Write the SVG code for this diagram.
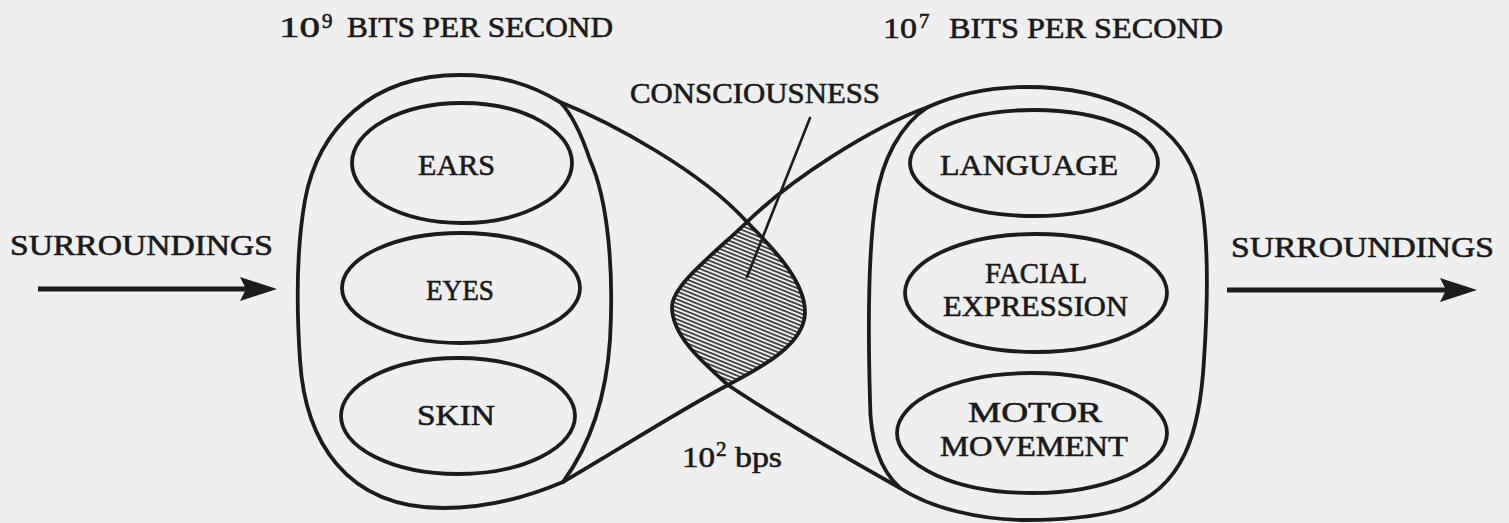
<svg xmlns="http://www.w3.org/2000/svg" width="1509" height="523" viewBox="0 0 1509 523">
<style>
.bg{fill:#efefef}
.ln{fill:none;stroke:#1c1c1c;stroke-width:3.8;stroke-linejoin:round;stroke-linecap:round}
.ov{fill:none;stroke:#1c1c1c;stroke-width:3.8}
.t{font-family:"Liberation Serif","Times New Roman",serif;fill:#1a1a1a;stroke:#1a1a1a;stroke-width:0.6;font-size:29px}
.sup{font-size:21px}
.arr{stroke:#1c1c1c;stroke-width:5;fill:none}
.ptr{stroke:#1c1c1c;stroke-width:2.6;fill:none;stroke-linecap:round}
</style>
<defs>
<pattern id="hatch" patternUnits="userSpaceOnUse" width="8" height="3.7" patternTransform="rotate(22)">
<line x1="-1" y1="1.8" x2="9" y2="1.8" stroke="#2a2a2a" stroke-width="1.6"/>
</pattern>
<marker id="ah" markerUnits="userSpaceOnUse" markerWidth="40" markerHeight="26" refX="10" refY="12" orient="auto">
<path d="M0,0 L37,12 L0,24 L6,12 Z" fill="#1c1c1c"/>
</marker>
</defs>
<rect class="bg" x="0" y="0" width="1509" height="523"/>

<g id="titles">
<text class="t" x="279" y="37" textLength="41" lengthAdjust="spacingAndGlyphs">10</text>
<text class="t sup" x="322" y="28">9</text>
<text class="t" x="347" y="37" textLength="266" lengthAdjust="spacingAndGlyphs">BITS PER SECOND</text>
<text class="t" x="883" y="38" textLength="34" lengthAdjust="spacingAndGlyphs">10</text>
<text class="t sup" x="919" y="28">7</text>
<text class="t" x="949" y="38" textLength="274" lengthAdjust="spacingAndGlyphs">BITS PER SECOND</text>
</g>

<g id="node-senses">
<path class="ov" d="M560,102 C530,84 500,75 460,75 C370,75 318,130 305,200 C297,245 296,300 300,360 C305,440 345,508 443,508 C490,508 530,496 563,482 C590,445 606,400 610,340 C614,270 608,200 590,160 C580,130 570,112 560,102 Z"/>
</g>
<g id="node-ears">
<ellipse class="ov" cx="462" cy="163" rx="110" ry="60"/>
<text class="t" x="418" y="175" textLength="77" lengthAdjust="spacingAndGlyphs">EARS</text>
</g>
<g id="node-eyes">
<ellipse class="ov" cx="461" cy="288" rx="119" ry="55"/>
<text class="t" x="426" y="300" textLength="68" lengthAdjust="spacingAndGlyphs">EYES</text>
</g>
<g id="node-skin">
<ellipse class="ov" cx="458" cy="416" rx="117" ry="58"/>
<text class="t" x="417" y="425" textLength="78" lengthAdjust="spacingAndGlyphs">SKIN</text>
</g>

<g id="node-output">
<path class="ov" d="M928,107 C955,95 990,87 1027,87 C1110,87 1175,120 1195,175 C1210,220 1208,300 1204,360 C1200,430 1185,490 1120,510 C1090,518 1060,520 1027,520 C980,520 930,508 900,488 C880,470 870,440 870,400 C868,330 868,250 876,200 C882,160 900,125 928,107 Z"/>
</g>
<g id="node-language">
<ellipse class="ov" cx="1034" cy="163" rx="124" ry="53"/>
<text class="t" x="940" y="175" textLength="178" lengthAdjust="spacingAndGlyphs">LANGUAGE</text>
</g>
<g id="node-facial">
<ellipse class="ov" cx="1036" cy="293" rx="131" ry="59"/>
<text class="t" x="985" y="283" textLength="102" lengthAdjust="spacingAndGlyphs">FACIAL</text>
<text class="t" x="943" y="316" textLength="185" lengthAdjust="spacingAndGlyphs">EXPRESSION</text>
</g>
<g id="node-motor">
<ellipse class="ov" cx="1032" cy="433" rx="135" ry="60"/>
<text class="t" x="968" y="422" textLength="134" lengthAdjust="spacingAndGlyphs">MOTOR</text>
<text class="t" x="940" y="456" textLength="188" lengthAdjust="spacingAndGlyphs">MOVEMENT</text>
</g>

<g id="node-consciousness">
<path fill="url(#hatch)" stroke="none" d="M747,222 C770,245 805,280 805,312 C805,345 760,368 728,385 C700,360 672,335 672,307 C672,285 715,253 747,222 Z"/>
<line class="ptr" x1="810" y1="118" x2="747" y2="277"/>
<text class="t" x="630" y="103" textLength="250" lengthAdjust="spacingAndGlyphs">CONSCIOUSNESS</text>
</g>

<g id="connectors">
<path class="ln" d="M560,102 C610,122 700,170 747,222 C770,245 805,280 805,312 C805,345 760,368 728,385 C680,410 610,455 563,482"/>
<path class="ln" d="M928,107 C870,128 790,180 747,222 C715,253 672,285 672,307 C672,335 700,360 728,385 C780,420 850,460 900,488"/>
<line class="arr" x1="38" y1="289" x2="250" y2="289" marker-end="url(#ah)"/>
<line class="arr" x1="1227" y1="290" x2="1450" y2="290" marker-end="url(#ah)"/>
<text class="t" x="10" y="255" textLength="263" lengthAdjust="spacingAndGlyphs">SURROUNDINGS</text>
<text class="t" x="1231" y="257" textLength="263" lengthAdjust="spacingAndGlyphs">SURROUNDINGS</text>
<text class="t" x="682" y="467" textLength="33" lengthAdjust="spacingAndGlyphs">10</text>
<text class="t sup" x="716" y="456">2</text>
<text class="t" x="735" y="467" textLength="47" lengthAdjust="spacingAndGlyphs">bps</text>
</g>
</svg>
